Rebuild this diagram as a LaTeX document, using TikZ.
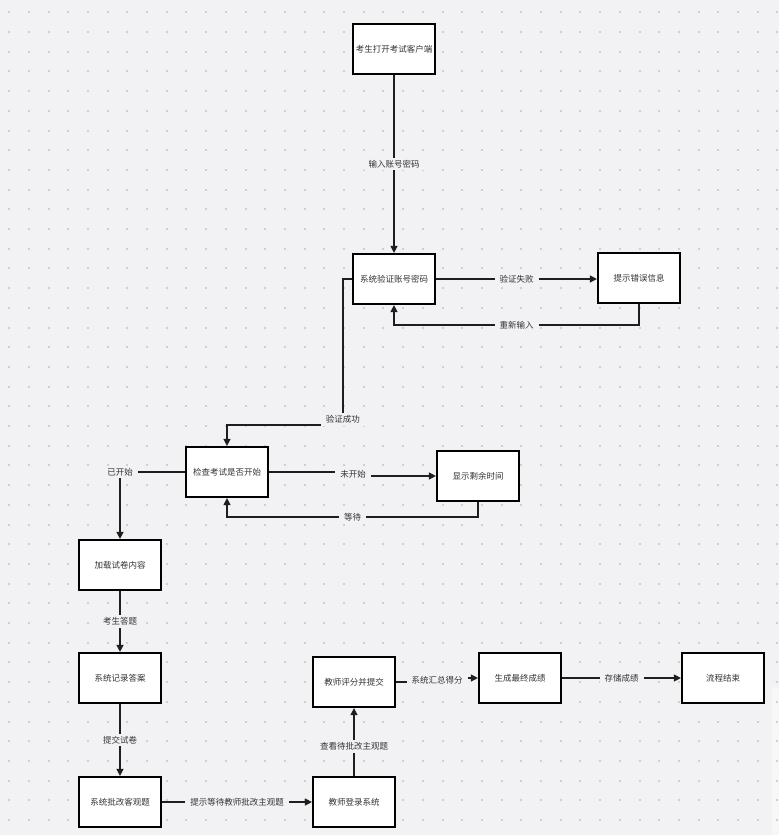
\documentclass[tikz,border=0pt]{standalone}
\usepackage{fontspec}
\setmainfont{Noto Sans CJK SC}
\usepackage{tikz}
\usetikzlibrary{arrows.meta}
\definecolor{bgcol}{HTML}{F2F2F4}
\definecolor{dotcol}{HTML}{CFCFD3}
\definecolor{txtcol}{HTML}{333333}
\definecolor{edgecol}{HTML}{1E1E1E}

\begin{document}
\begin{tikzpicture}[x=1pt,y=-1pt,
  box/.style={draw=black,line width=2.2pt,fill=white,minimum width=82pt,minimum height=50pt,
    inner sep=1pt,text=txtcol,font=\fontsize{8.5}{10}\selectfont},
  arr/.style={draw=edgecol,line width=1.3pt,-{Triangle[length=7pt,width=7pt]}},
  lbl/.style={fill=bgcol,text=txtcol,inner xsep=5pt,inner ysep=2.5pt,font=\fontsize{8.5}{10}\selectfont}]
\useasboundingbox (0,0) rectangle (779,835);
\fill[bgcol] (0,0) rectangle (779,835);
\fill[white,opacity=0.4] (772,687) rectangle (779,835);
% dotted grid
\foreach \i in {0,...,39}
  \foreach \j in {0,...,41}
    \fill[dotcol] ({9.1+19.7*\i-1},{12.3+19.7*\j-1}) rectangle ++(2,2);

\node[box] (open) at (394,49) {考生打开考试客户端};
\node[box] (verify) at (394,279) {系统验证账号密码};
\node[box] (err) at (639,278) {提示错误信息};
\node[box] (check) at (227,472) {检查考试是否开始};
\node[box] (remain) at (478,476) {显示剩余时间};
\node[box] (load) at (120,565) {加载试卷内容};
\node[box] (record) at (120,678) {系统记录答案};
\node[box] (grade) at (120,802) {系统批改客观题};
\node[box] (login) at (354,802) {教师登录系统};
\node[box] (score) at (354,682) {教师评分并提交};
\node[box] (final) at (520,678) {生成最终成绩};
\node[box] (end) at (723,678) {流程结束};

\draw[arr] (open) -- node[lbl]{输入账号密码} (verify);
\draw[arr] (verify.east) -- node[lbl]{验证失败} (err.west |- verify.east);
\draw[arr] (err.south) -- ++(0,21) -| node[lbl,pos=0.25]{重新输入} (verify.south);
\draw[arr] (verify.west) -- ++(-9,0) |- node[lbl,pos=0.48]{验证成功} (227,425) -- (check.north);
\draw[arr] (check.east) -- ++(84,0) |- node[lbl,pos=0.25]{未开始} (remain.west);
\draw[arr] (remain.south) -- ++(0,15) -| node[lbl,pos=0.25]{等待} (check.south);
\draw[arr] (check.west) -| node[lbl,pos=0.5]{已开始} (load.north);
\draw[arr] (load) -- node[lbl]{考生答题} (record);
\draw[arr] (record) -- node[lbl]{提交试卷} (grade);
\draw[arr] (grade) -- node[lbl]{提示等待教师批改主观题} (login);
\draw[arr] (login) -- node[lbl,pos=0.43]{查看待批改主观题} (score);
\draw[arr] (score.east) -- ++(41,0) |- node[lbl,pos=0.25]{系统汇总得分} (final.west);
\draw[arr] (final) -- node[lbl]{存储成绩} (end);
\end{tikzpicture}
\end{document}
